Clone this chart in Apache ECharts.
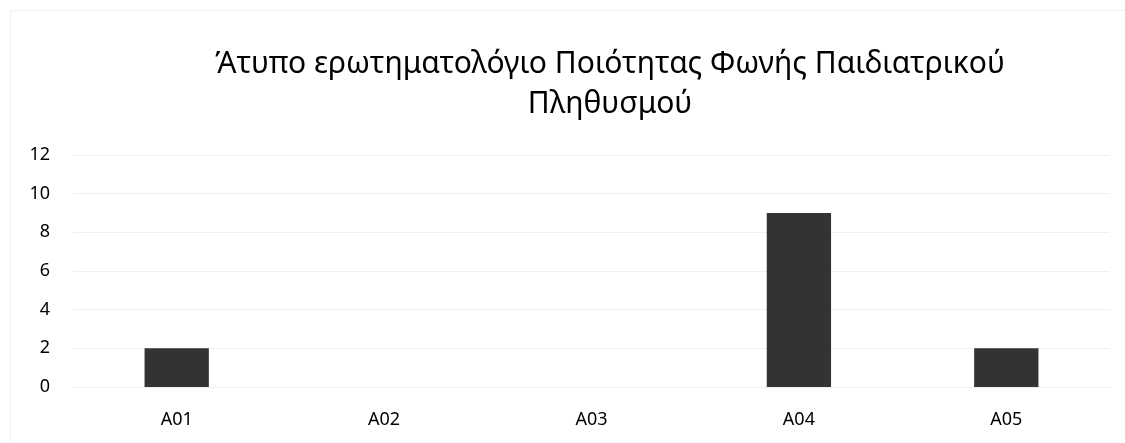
<!DOCTYPE html>
<html>
<head>
    <meta charset="utf-8">
    <title>ECharts</title>
    <script src="https://cdn.jsdelivr.net/npm/echarts@6/dist/echarts.min.js"></script>
    <style>
        html, body { margin: 0; padding: 0; background: #fff; }
        #main { width: 1125px; height: 443px; }
    </style>
</head>
<body>
<div id="main"></div>
<script type="text/javascript">
    var titleText = 'Άτυπο ερωτηματολόγιο Ποιότητας Φωνής Παιδιατρικού\nΠληθυσμού';
    var categories = ['A01', 'A02', 'A03', 'A04', 'A05'];
    var values = [2, 0, 0, 9, 2];
    var yTicks = [0, 2, 4, 6, 8, 10, 12];

    var font = '"Noto Sans", "Open Sans", sans-serif';

    var chart = echarts.init(document.getElementById('main'));
    var option = {
        backgroundColor: '#fff',
        animation: false,
        // thin frame round the chart area, like the office chart border
        graphic: [{
            type: 'rect',
            shape: {x: 10.5, y: 10.5, width: 1130, height: 440},
            style: {fill: 'none', stroke: '#f0f0f0', lineWidth: 1},
            silent: true
        }],
        title: {
            text: titleText,
            left: 605,
            top: 39,
            textAlign: 'center',
            textStyle: {
                fontFamily: font,
                fontSize: 30,
                fontWeight: 'normal',
                color: '#000',
                lineHeight: 40
            }
        },
        grid: {
            left: 73,
            right: 15,
            top: 155,
            bottom: 56
        },
        xAxis: {
            type: 'category',
            data: categories,
            axisLine: {show: true, lineStyle: {color: '#efefef', width: 1}},
            axisTick: {show: false},
            axisLabel: {
                margin: 24,
                fontFamily: font,
                fontSize: 18,
                color: '#000'
            }
        },
        yAxis: {
            type: 'value',
            min: yTicks[0],
            max: yTicks[yTicks.length - 1],
            interval: 2,
            axisLine: {show: false},
            axisTick: {show: false},
            splitLine: {lineStyle: {color: '#efefef', width: 1}},
            axisLabel: {
                margin: 23,
                fontFamily: font,
                fontSize: 18,
                color: '#000'
            }
        },
        series: [{
            type: 'bar',
            data: values,
            barWidth: '31%',
            itemStyle: {
                color: '#343233'
            }
        }]
    };
    chart.setOption(option);
</script>
</body>
</html>
